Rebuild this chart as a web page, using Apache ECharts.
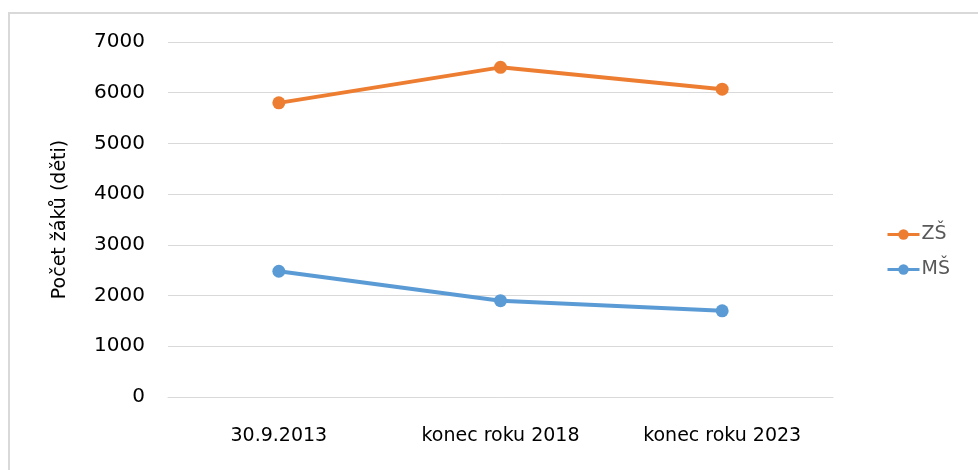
<!DOCTYPE html>
<html>
<head>
<meta charset="utf-8">
<script src="https://cdn.jsdelivr.net/npm/echarts@6/dist/echarts.min.js"></script>
<style>
  html, body { margin: 0; padding: 0; background: #fff; }
  #chart { width: 978px; height: 470px; }
</style>
</head>
<body>
<div id="chart"></div>
<script>
// categories and values
const categories = ['30.9.2013', 'konec roku 2018', 'konec roku 2023'];
const zsValues = [5800, 6500, 6070];
const msValues = [2480, 1900, 1700];
const yTicks = { min: 0, max: 7000, interval: 1000 };

const chart = echarts.init(document.getElementById('chart'));
const font = 'DejaVu Sans';

const option = {
    animation: false,
    backgroundColor: '#fff',
    textStyle: { fontFamily: font },
    graphic: [
        {
            type: 'rect',
            shape: { x: 9, y: 13, width: 1000, height: 500 },
            style: { fill: 'none', stroke: '#d9d9d9', lineWidth: 2 },
            silent: true
        }
    ],
    grid: { left: 168, right: 145, top: 42, bottom: 73 },
    legend: {
        orient: 'vertical',
        left: 881,
        top: 220,
        itemWidth: 32,
        itemHeight: 13,
        itemGap: 16,
        lineStyle: { width: 3 },
        textStyle: { fontFamily: font, fontSize: 19, color: '#595959', padding: [0, 0, 0, -3] },
        data: ['ZŠ', 'MŠ']
    },
    xAxis: {
        type: 'category',
        data: categories,
        axisLine: { lineStyle: { color: '#d9d9d9', width: 1 } },
        axisTick: { show: false },
        axisLabel: { fontFamily: font, fontSize: 19, color: '#000', margin: 30 }
    },
    yAxis: {
        type: 'value',
        min: yTicks.min,
        max: yTicks.max,
        interval: yTicks.interval,
        name: 'Počet žáků (děti)',
        nameLocation: 'middle',
        nameGap: 98,
        nameTextStyle: { fontFamily: font, fontSize: 19, color: '#000' },
        axisLine: { show: false },
        axisTick: { show: false },
        splitLine: { lineStyle: { color: '#d9d9d9', width: 1 } },
        axisLabel: {
            fontFamily: font,
            fontSize: 20,
            color: '#000',
            margin: 23,
            formatter: v => String(v)
        }
    },
    series: [
        {
            name: 'ZŠ',
            type: 'line',
            data: zsValues,
            symbol: 'circle',
            symbolSize: 13,
            lineStyle: { color: '#ED7D31', width: 4 },
            itemStyle: { color: '#ED7D31' }
        },
        {
            name: 'MŠ',
            type: 'line',
            data: msValues,
            symbol: 'circle',
            symbolSize: 13,
            lineStyle: { color: '#5B9BD5', width: 4 },
            itemStyle: { color: '#5B9BD5' }
        }
    ]
};

chart.setOption(option);
</script>
</body>
</html>
